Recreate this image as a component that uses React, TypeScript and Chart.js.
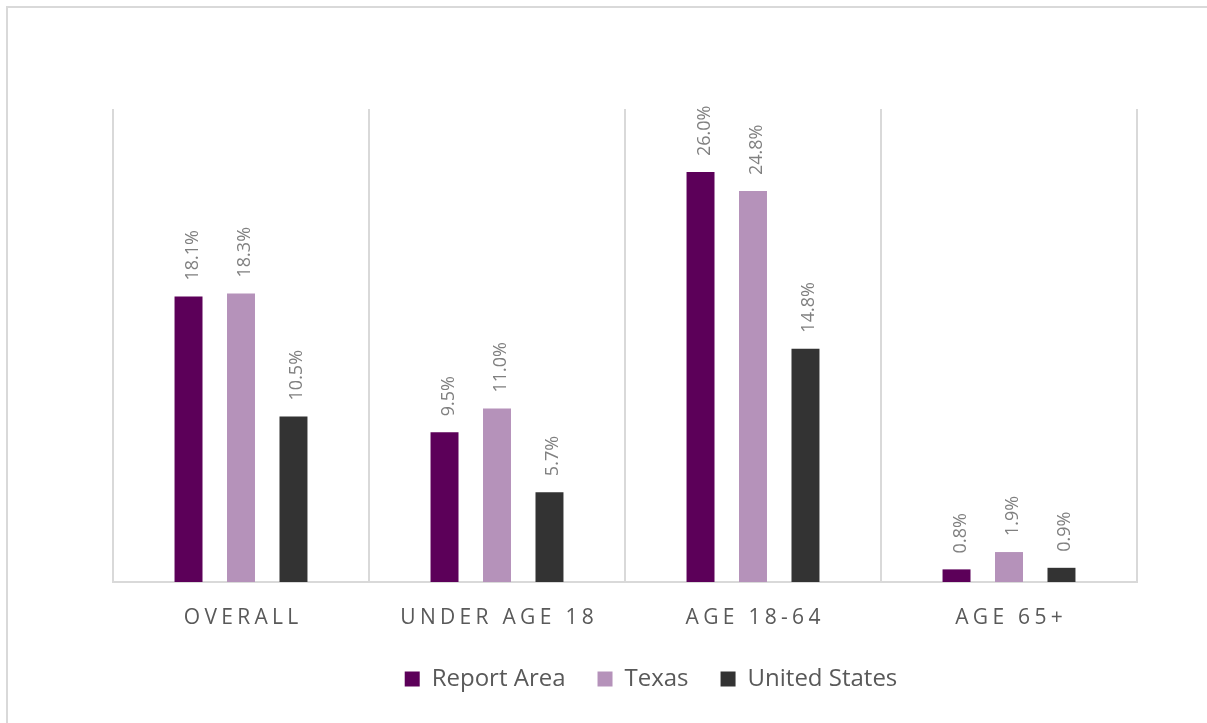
import { useEffect, useRef } from "react";
import { Chart, registerables } from "chart.js";

Chart.register(...registerables);

// ---- data ----
const categories = ["OVERALL", "UNDER AGE 18", "AGE 18-64", "AGE 65+"];
const seriesNames = ["Report Area", "Texas", "United States"];
const reportArea = [18.1, 9.5, 26.0, 0.8];
const texas = [18.3, 11.0, 24.8, 1.9];
const unitedStates = [10.5, 5.7, 14.8, 0.9];
const seriesColors = ["#5C0059", "#B592BA", "#333333"];
const yMin = 0;
const yMax = 30;

const FONT = "'Open Sans', 'Noto Sans', sans-serif";

const categoryLabelPlugin = {
  id: "categoryLabels",
  afterDraw(chart: any) {
    const { ctx } = chart;
    const xs = chart.scales.x;
    const spacing = 4.3;
    ctx.save();
    ctx.font = `21px ${FONT}`;
    ctx.fillStyle = "#595959";
    ctx.textAlign = "left";
    ctx.textBaseline = "alphabetic";
    const y = chart.chartArea.bottom + 42;
    (chart.data.labels as string[]).forEach((label: string, i: number) => {
      const chars = Array.from(label);
      const widths = chars.map((c) => ctx.measureText(c).width);
      const total = widths.reduce((a, b) => a + b, 0) + spacing * (chars.length - 1);
      let x = xs.getPixelForValue(i) - total / 2;
      chars.forEach((c, k) => {
        ctx.fillText(c, x, y);
        x += widths[k] + spacing;
      });
    });
    ctx.restore();
  },
};

const dataLabelPlugin = {
  id: "dataLabels",
  afterDatasetsDraw(chart: any) {
    const { ctx } = chart;
    ctx.save();
    ctx.font = `18px ${FONT}`;
    ctx.fillStyle = "#808080";
    ctx.textAlign = "left";
    ctx.textBaseline = "alphabetic";
    chart.data.datasets.forEach((ds: any, di: number) => {
      const meta = chart.getDatasetMeta(di);
      meta.data.forEach((bar: any, i: number) => {
        const v = ds.data[i] as number;
        ctx.save();
        ctx.translate(bar.x + 9, bar.y - 16);
        ctx.rotate(-Math.PI / 2);
        ctx.fillText(v.toFixed(1) + "%", 0, 0);
        ctx.restore();
      });
    });
    ctx.restore();
  },
};

export default function App() {
  const ref = useRef<HTMLCanvasElement | null>(null);

  useEffect(() => {
    if (!ref.current) return;
    const seriesData = [reportArea, texas, unitedStates];
    const chart = new Chart(ref.current, {
      type: "bar",
      data: {
        labels: categories,
        datasets: seriesNames.map((name, i) => ({
          label: name,
          data: seriesData[i],
          backgroundColor: seriesColors[i],
          borderWidth: 0,
          categoryPercentage: 0.615,
          barPercentage: 0.533,
        })),
      },
      options: {
        responsive: false,
        animation: false,
        devicePixelRatio: 1,
        layout: { padding: { top: 109, bottom: 22, left: 0, right: 0 } },
        plugins: {
          tooltip: { enabled: false },
          legend: {
            position: "bottom",
            labels: {
              boxWidth: 15,
              boxHeight: 15,
              padding: 32,
              color: "#595959",
              font: { family: FONT, size: 24 },
            },
          },
        },
        scales: {
          x: {
            grid: {
              display: true,
              color: "#d9d9d9",
              lineWidth: 2,
              drawTicks: false,
              offset: true,
            },
            border: { display: true, color: "#d9d9d9", width: 2 },
            ticks: { display: false },
            afterFit: (s: any) => {
              s.height = 53;
            },
          },
          y: {
            min: yMin,
            max: yMax,
            grid: { display: false },
            border: { display: false },
            ticks: { display: false },
            afterFit: (s: any) => {
              s.width = 113;
            },
          },
          yRight: {
            type: "linear",
            position: "right",
            display: true,
            grid: { display: false },
            border: { display: false },
            ticks: { display: false },
            afterFit: (s: any) => {
              s.width = 165;
            },
          },
        },
      } as any,
      plugins: [dataLabelPlugin, categoryLabelPlugin],
    });
    return () => chart.destroy();
  }, []);

  return (
    <div
      style={{
        position: "absolute",
        left: 0,
        top: 0,
        width: 1207,
        height: 723,
        overflow: "hidden",
        background: "#fff",
      }}
    >
      <div
        style={{
          position: "absolute",
          left: 6,
          top: 6,
          width: 1400,
          height: 900,
          border: "2px solid #d9d9d9",
        }}
      />
      <canvas
        ref={ref}
        width={1302}
        height={723}
        style={{ position: "absolute", left: 0, top: 0, width: 1302, height: 723, display: "block" }}
      />
    </div>
  );
}
